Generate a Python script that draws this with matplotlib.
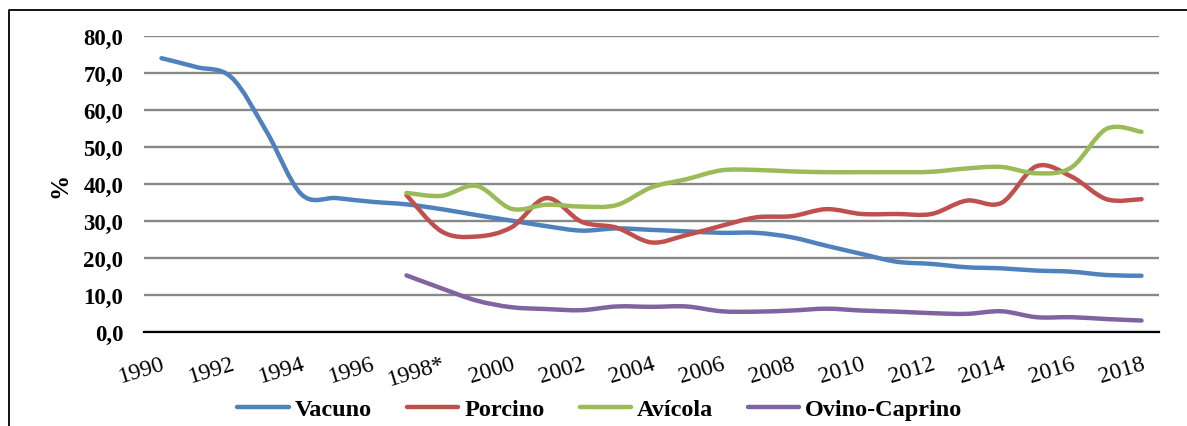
import numpy as np
import matplotlib
matplotlib.use("Agg")
import matplotlib.pyplot as plt
from matplotlib.path import Path
from matplotlib.patches import PathPatch
from matplotlib.lines import Line2D

plt.rcParams['font.family'] = ['Liberation Serif', 'DejaVu Serif']

years = list(range(1990, 2019))
tick_labels = ['1990', '1992', '1994', '1996', '1998*', '2000', '2002', '2004',
               '2006', '2008', '2010', '2012', '2014', '2016', '2018']

nan = np.nan
vacuno = [74.0, 71.6, 68.8, 54.2, 37.2, 36.2, 35.2, 34.5, 33.2, 31.6,
          30.1, 28.6, 27.4, 28.0, 27.6, 27.2, 26.8, 26.8, 25.6, 23.3,
          21.1, 19.0, 18.4, 17.5, 17.2, 16.6, 16.3, 15.4, 15.2]
porcino = [nan] * 7 + [37.0, 27.2, 25.8, 28.3, 36.2, 29.8, 28.2, 24.2, 26.2, 28.7,
                       31.0, 31.3, 33.2, 31.9, 31.9, 31.9, 35.5, 34.9, 44.8, 42.0,
                       35.9, 35.9]
avicola = [nan] * 7 + [37.6, 36.8, 39.5, 33.3, 34.4, 33.9, 34.3, 39.1, 41.3, 43.7,
                       43.8, 43.4, 43.2, 43.2, 43.2, 43.3, 44.2, 44.6, 42.9, 44.5,
                       54.9, 54.1]
ovino = [nan] * 7 + [15.3, 11.8, 8.5, 6.7, 6.2, 5.9, 6.9, 6.8, 6.9, 5.6,
                     5.5, 5.8, 6.3, 5.8, 5.5, 5.1, 4.9, 5.6, 4.0, 4.0,
                     3.5, 3.1]

series = [('Vacuno', vacuno, '#4F81BD'),
          ('Porcino', porcino, '#C0504D'),
          ('Avícola', avicola, '#9BBB59'),
          ('Ovino-Caprino', ovino, '#8064A2')]


def smooth_path(x, y):
    """Bezier path through the points, same style as spreadsheet smoothed lines."""
    pts = np.column_stack([x, y])
    n = len(pts)
    verts = [pts[0]]
    codes = [Path.MOVETO]
    for i in range(n - 1):
        p0 = pts[max(i - 1, 0)]
        p1 = pts[i]
        p2 = pts[i + 1]
        p3 = pts[min(i + 2, n - 1)]
        c1 = p1 + (p2 - p0) / 6.0
        c2 = p2 - (p3 - p1) / 6.0
        verts += [c1, c2, p2]
        codes += [Path.CURVE4] * 3
    return Path(verts, codes)


fig = plt.figure(figsize=(11.87, 4.27), dpi=100)
ax = fig.add_axes([144 / 1187, 1 - 333 / 427, 1015 / 1187, 296 / 427])

idx = np.arange(len(years))
handles = []
for name, vals, color in series:
    v = np.array(vals, dtype=float)
    ok = ~np.isnan(v)
    path = smooth_path(idx[ok], v[ok])
    ax.add_patch(PathPatch(path, facecolor='none', edgecolor=color, lw=3.2,
                           capstyle='round', joinstyle='round', zorder=3))
    handles.append(Line2D([], [], color=color, lw=3.2, solid_capstyle='round'))

ax.set_xlim(-0.5, len(years) - 0.5)
ax.set_ylim(0, 80)
ax.set_yticks(np.arange(0, 81, 10))
ax.set_yticklabels([f'{t:.1f}'.replace('.', ',') for t in range(0, 81, 10)],
                   fontsize=16.5, fontweight='bold')
ax.yaxis.grid(True, color='#888888', lw=1.7)
ax.set_axisbelow(True)

ax.set_xticks(idx[::2])
ax.set_xticklabels(tick_labels, fontsize=17)
plt.setp(ax.get_xticklabels(), rotation=17, ha='right', va='top',
         rotation_mode='anchor')
ax.tick_params(axis='both', length=0)
ax.tick_params(axis='y', pad=15)
ax.tick_params(axis='x', pad=15)

for s in ['top', 'right', 'left']:
    ax.spines[s].set_visible(False)
ax.spines['bottom'].set_color('black')
ax.spines['bottom'].set_linewidth(1.6)
ax.spines['bottom'].set_zorder(4)

fig.text(60 / 1187, 1 - 185 / 427, '%', rotation=90, fontsize=18,
         fontweight='bold', ha='center', va='center')

fig.legend(handles, [s[0] for s in series], loc='center',
           bbox_to_anchor=(600 / 1187, 1 - 410 / 427), ncol=4, frameon=False,
           prop={'size': 17.5, 'weight': 'bold'}, handlelength=2.1,
           handletextpad=0.25, columnspacing=1.45)

# outer frame (left and top edges)
fig.add_artist(Line2D([9 / 1187, 9 / 1187, 1.0], [0.0, 1 - 11 / 427, 1 - 11 / 427],
                      color='black', lw=1.3, transform=fig.transFigure))

fig.savefig('out.png', dpi=100)
